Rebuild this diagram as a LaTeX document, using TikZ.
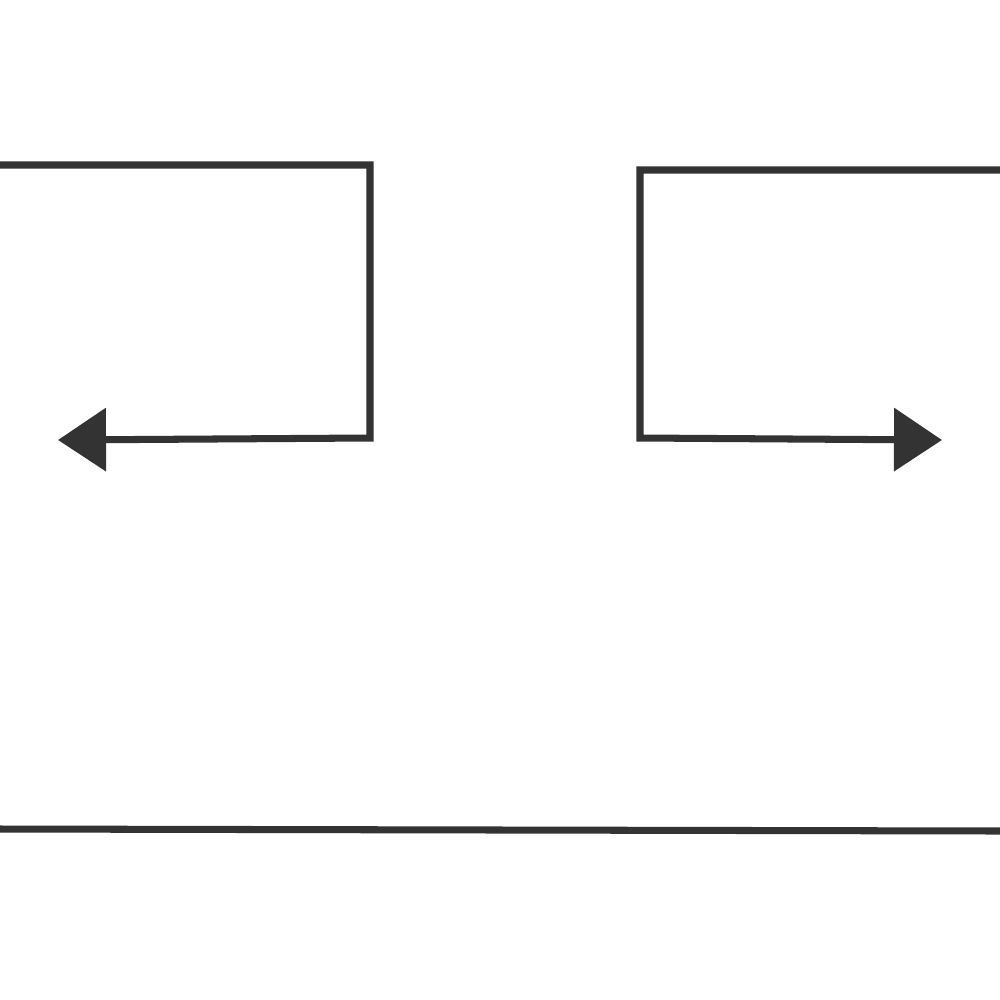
\documentclass[tikz,border=0pt]{standalone}
\usetikzlibrary{arrows.meta}
\definecolor{ink}{HTML}{333333}
\begin{document}
\begin{tikzpicture}[x=0.01cm,y=-0.01cm,
  wire/.style={draw=ink,line width=2pt,line join=miter},
  arr/.style={wire,-{Triangle[length=0.48cm,width=0.62cm]}}]
\useasboundingbox[fill=white] (0,0) rectangle (1000,1000);
\coordinate (la) at (0,165);
\coordinate (lb) at (370,165);
\coordinate (lc) at (370,438);
\coordinate (ld) at (58,440);
\coordinate (ra) at (1000,170);
\coordinate (rb) at (640,170);
\coordinate (rc) at (640,438);
\coordinate (rd) at (942,440);
\coordinate (ba) at (0,829);
\coordinate (bb) at (1000,831);
\draw[arr] (la) -- (lb) -- (lc) -- (ld);
\draw[arr] (ra) -- (rb) -- (rc) -- (rd);
\draw[wire] (ba) -- (bb);
\end{tikzpicture}
\end{document}
